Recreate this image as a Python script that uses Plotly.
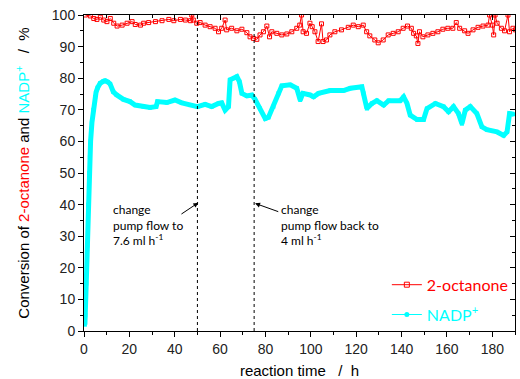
import plotly.graph_objects as go

# NADP+ conversion (cyan)
nadp_t = [0.4, 0.6, 0.8, 1.0, 1.2, 1.5, 1.9, 2.3, 2.6, 2.9, 3.5, 4.1, 4.9, 5.3, 6.0, 7.1, 8.5, 9.3, 10.5, 11.5,
          12.9, 14.4, 17.4, 20.3, 22.5, 26.2, 29.1, 31.8, 32.4, 36.5, 40.1, 43.1, 46.8, 50.0, 53.4, 56.3, 59.3,
          60.7, 62.2, 63.7, 64.4, 67.4, 68.5, 69.6, 71.8, 74.0, 75.4, 77.6, 79.9, 81.3, 83.5, 85.7, 87.2, 90.9,
          93.8, 95.3, 96.5, 99.7, 101.2, 103.4, 108.5, 114.4, 117.4, 122.5, 123.2, 124.7, 126.9, 129.1, 132.1,
          134.3, 139.4, 140.9, 142.4, 143.8, 146.8, 149.7, 151.2, 154.9, 158.5, 160.7, 162.9, 165.1, 166.6,
          168.1, 170.3, 173.2, 175.4, 177.6, 182.1, 185.0, 186.5, 187.6, 189.4]
nadp_y = [2, 5, 10, 15, 20, 27, 40, 50, 55, 60, 66, 70, 74, 75.5, 77, 78.4, 79, 79.2, 78.8, 78.2,
          75.7, 74.7, 73.3, 72.6, 71.5, 71.0, 70.7, 71.0, 72.6, 72.3, 73.1, 72.2, 71.5, 71.0, 71.7, 71.0, 72.0,
          72.2, 69.9, 71.0, 79.5, 80.5, 78.9, 75.2, 74.4, 74.7, 73.3, 70.4, 67.2, 67.6, 71.0, 75.2, 77.6, 77.9,
          76.8, 73.1, 75.2, 74.7, 74.1, 75.2, 76.1, 76.1, 76.8, 77.3, 75.2, 70.4, 72.0, 72.9, 71.5,
          72.9, 72.9, 74.1, 72.0, 68.3, 66.9, 66.9, 70.4, 72.0, 71.0, 69.4, 71.0, 68.8, 65.6,
          69.9, 71.0, 68.8, 64.6, 63.7, 63.0, 61.9, 63.0, 68.8, 68.6]

# 2-octanone conversion (red)
oct_t = [0.6, 2.8, 4.3, 5.7, 7.2, 8.7, 10.1, 11.6, 13.1, 14.6, 16.8, 19.0, 21.2, 22.6, 24.9, 26.3, 28.5,
         31.5, 34.4, 37.4, 39.6, 42.5, 44.7, 46.9, 47.5, 48.2, 49.7, 51.2, 53.4, 55.6, 57.8, 59.3, 60.7,
         62.2, 62.9, 65.1, 67.4, 69.6, 71.8, 73.2, 74.7, 76.2, 77.6, 79.1, 80.6, 81.8, 82.8, 85.0, 87.2,
         89.4, 91.6, 93.8, 95.1, 95.9, 96.6, 98.1, 99.6, 100.6, 101.8, 103.2, 104.7, 105.4, 106.9, 108.4,
         110.6, 113.5, 116.5, 118.7, 120.9, 123.1, 124.6, 126.0, 128.2, 129.7, 131.9, 134.1, 136.3, 138.5,
         140.7, 142.6, 144.3, 145.3, 146.5, 147.2, 147.9, 149.4, 151.6, 153.8, 156.0, 158.2, 160.4, 162.6,
         164.1, 165.6, 167.8, 169.3, 171.5, 173.7, 175.9, 178.1, 178.8, 180.0, 180.6, 181.2, 182.1, 184.0,
         185.4, 186.9, 187.6, 189.1, 190.2]
oct_y = [100, 99.7, 98.9, 98.6, 99.3, 98.4, 97.9, 98.9, 97.4, 96.5, 96.8, 97.4, 97.9, 97.0, 96.8, 97.4, 97.6,
         97.9, 98.2, 98.6, 98.2, 98.6, 98.4, 98.2, 100, 98.4, 97.4, 97.6, 96.8, 96.3, 95.8, 94.7, 95.8,
         98.4, 95.3, 95.8, 95.0, 95.5, 94.4, 93.1, 92.6, 92.3, 93.7, 94.7, 96.5, 93.1, 94.7, 94.2, 93.7,
         94.0, 94.7, 95.8, 96.8, 100, 94.7, 94.2, 97.4, 96.3, 94.7, 91.6, 97.2, 91.6, 92.1, 93.7,
         94.7, 95.3, 96.1, 96.8, 96.3, 96.8, 94.7, 93.4, 92.1, 91.2, 92.1, 93.7, 94.2, 94.7,
         95.8, 96.5, 95.8, 94.2, 93.4, 91.0, 94.7, 93.1, 93.7, 94.2, 94.7, 95.5, 95.8, 95.8,
         97.6, 95.8, 95.0, 94.2, 95.3, 96.1, 96.5, 96.8, 100, 96.8, 93.7, 100, 97.4, 95.8,
         95.0, 100, 94.7, 95.8, 95.3]

x_ticks = [0, 20, 40, 60, 80, 100, 120, 140, 160, 180]
y_ticks = [0, 10, 20, 30, 40, 50, 60, 70, 80, 90, 100]
pump_change_t = [50, 75]

RED = "#FF0000"
CYAN = "#00FFFF"
FONT = "Liberation Sans, Arial, sans-serif"

fig = go.Figure()

fig.add_trace(go.Scatter(x=nadp_t, y=nadp_y, mode="lines+markers",
                         line=dict(color=CYAN, width=5),
                         marker=dict(symbol="square", size=4, color=CYAN),
                         showlegend=False, hoverinfo="skip"))
fig.add_trace(go.Scatter(x=oct_t, y=oct_y, mode="lines+markers",
                         line=dict(color=RED, width=1),
                         marker=dict(symbol="square-open", size=4, color=RED, line=dict(width=1)),
                         showlegend=False))

# legend entries
fig.add_trace(go.Scatter(x=[None], y=[None], mode="lines+markers", xaxis="x2", yaxis="y2",
                         name=f"<span style='color:{RED}'>2-octanone</span>", legendgroup="a",
                         line=dict(color=RED, width=1),
                         marker=dict(symbol="square-open", size=5, color=RED)))
fig.add_trace(go.Scatter(x=[None], y=[None], mode="lines+markers", xaxis="x2", yaxis="y2",
                         name=f"<span style='color:{CYAN}'>NADP<sup>+</sup></span>", legendgroup="b",
                         line=dict(color=CYAN, width=1),
                         marker=dict(symbol="circle", size=5, color=CYAN)))

for t in pump_change_t:
    fig.add_shape(type="line", x0=t, x1=t, y0=0, y1=100, xref="x", yref="y",
                  line=dict(color="black", width=1, dash="dot"))

ann_font = dict(family="Lato, Carlito, sans-serif", size=12, color="black")
fig.add_annotation(x=11.8, y=33.4, xref="x", yref="y", xanchor="left", yanchor="middle", align="left",
                   text="change<br>pump flow to<br>7.6 ml h<sup>-1</sup>", showarrow=False, font=ann_font)
fig.add_annotation(x=86.0, y=33.4, xref="x", yref="y", xanchor="left", yanchor="middle", align="left",
                   text="change<br>pump flow back to<br>4 ml h<sup>-1</sup>", showarrow=False, font=ann_font)
fig.add_annotation(x=50.4, y=40.6, ax=42.3, ay=36.7, xref="x", yref="y", axref="x", ayref="y",
                   text="", showarrow=True, arrowhead=2, arrowsize=1, arrowwidth=1, arrowcolor="black")
fig.add_annotation(x=75.4, y=40.4, ax=86.3, ay=37.6, xref="x", yref="y", axref="x", ayref="y",
                   text="", showarrow=True, arrowhead=2, arrowsize=1, arrowwidth=1, arrowcolor="black")

axis_common = dict(showline=True, linecolor="black", linewidth=1, showgrid=False, zeroline=False,
                   tickcolor="black", ticklen=5, tickwidth=1,
                   tickfont=dict(family=FONT, size=14, color="#222"))

fig.update_layout(
    width=520, height=379,
    margin=dict(l=84, r=5, t=15, b=48, autoexpand=False),
    paper_bgcolor="white", plot_bgcolor="white",
    font=dict(family=FONT, color="black"),
    xaxis=dict(range=[0, 190], tickvals=x_ticks, ticks="outside",
               minor=dict(dtick=10, ticks="outside", ticklen=3, tickcolor="black"),
               title=dict(text="reaction time   /  h", font=dict(size=15, family=FONT), standoff=11),
               **axis_common),
    yaxis=dict(range=[0, 100], tickvals=y_ticks, ticks="outside",
               minor=dict(dtick=5, ticks="outside", ticklen=3, tickcolor="black"),
               title=dict(text=f"Conversion of <span style='color:{RED}'>2-octanone</span> and "
                               f"<span style='color:{CYAN}'>NADP<sup>+</sup></span>   /  %",
                          font=dict(size=15, family=FONT), standoff=18),
               **axis_common),
    xaxis2=dict(range=[0, 190], overlaying="x", side="top", tickvals=x_ticks, ticks="inside",
                showticklabels=False, showline=True, linecolor="black", showgrid=False, zeroline=False,
                ticklen=5, tickcolor="black",
                minor=dict(dtick=10, ticks="inside", ticklen=3, tickcolor="black")),
    yaxis2=dict(range=[0, 100], overlaying="y", side="right", tickvals=y_ticks, ticks="inside",
                showticklabels=False, showline=True, linecolor="black", showgrid=False, zeroline=False,
                ticklen=5, tickcolor="black",
                minor=dict(dtick=5, ticks="inside", ticklen=3, tickcolor="black")),
    legend=dict(x=0.995, y=0.2, xanchor="right", yanchor="top", bgcolor="rgba(0,0,0,0)",
                font=dict(size=16, family="Lato, Carlito, sans-serif"), tracegroupgap=6),
    showlegend=True,
)

fig.write_html("out.html", config={"displayModeBar": False},
               post_script="document.body.style.margin='0px';")
